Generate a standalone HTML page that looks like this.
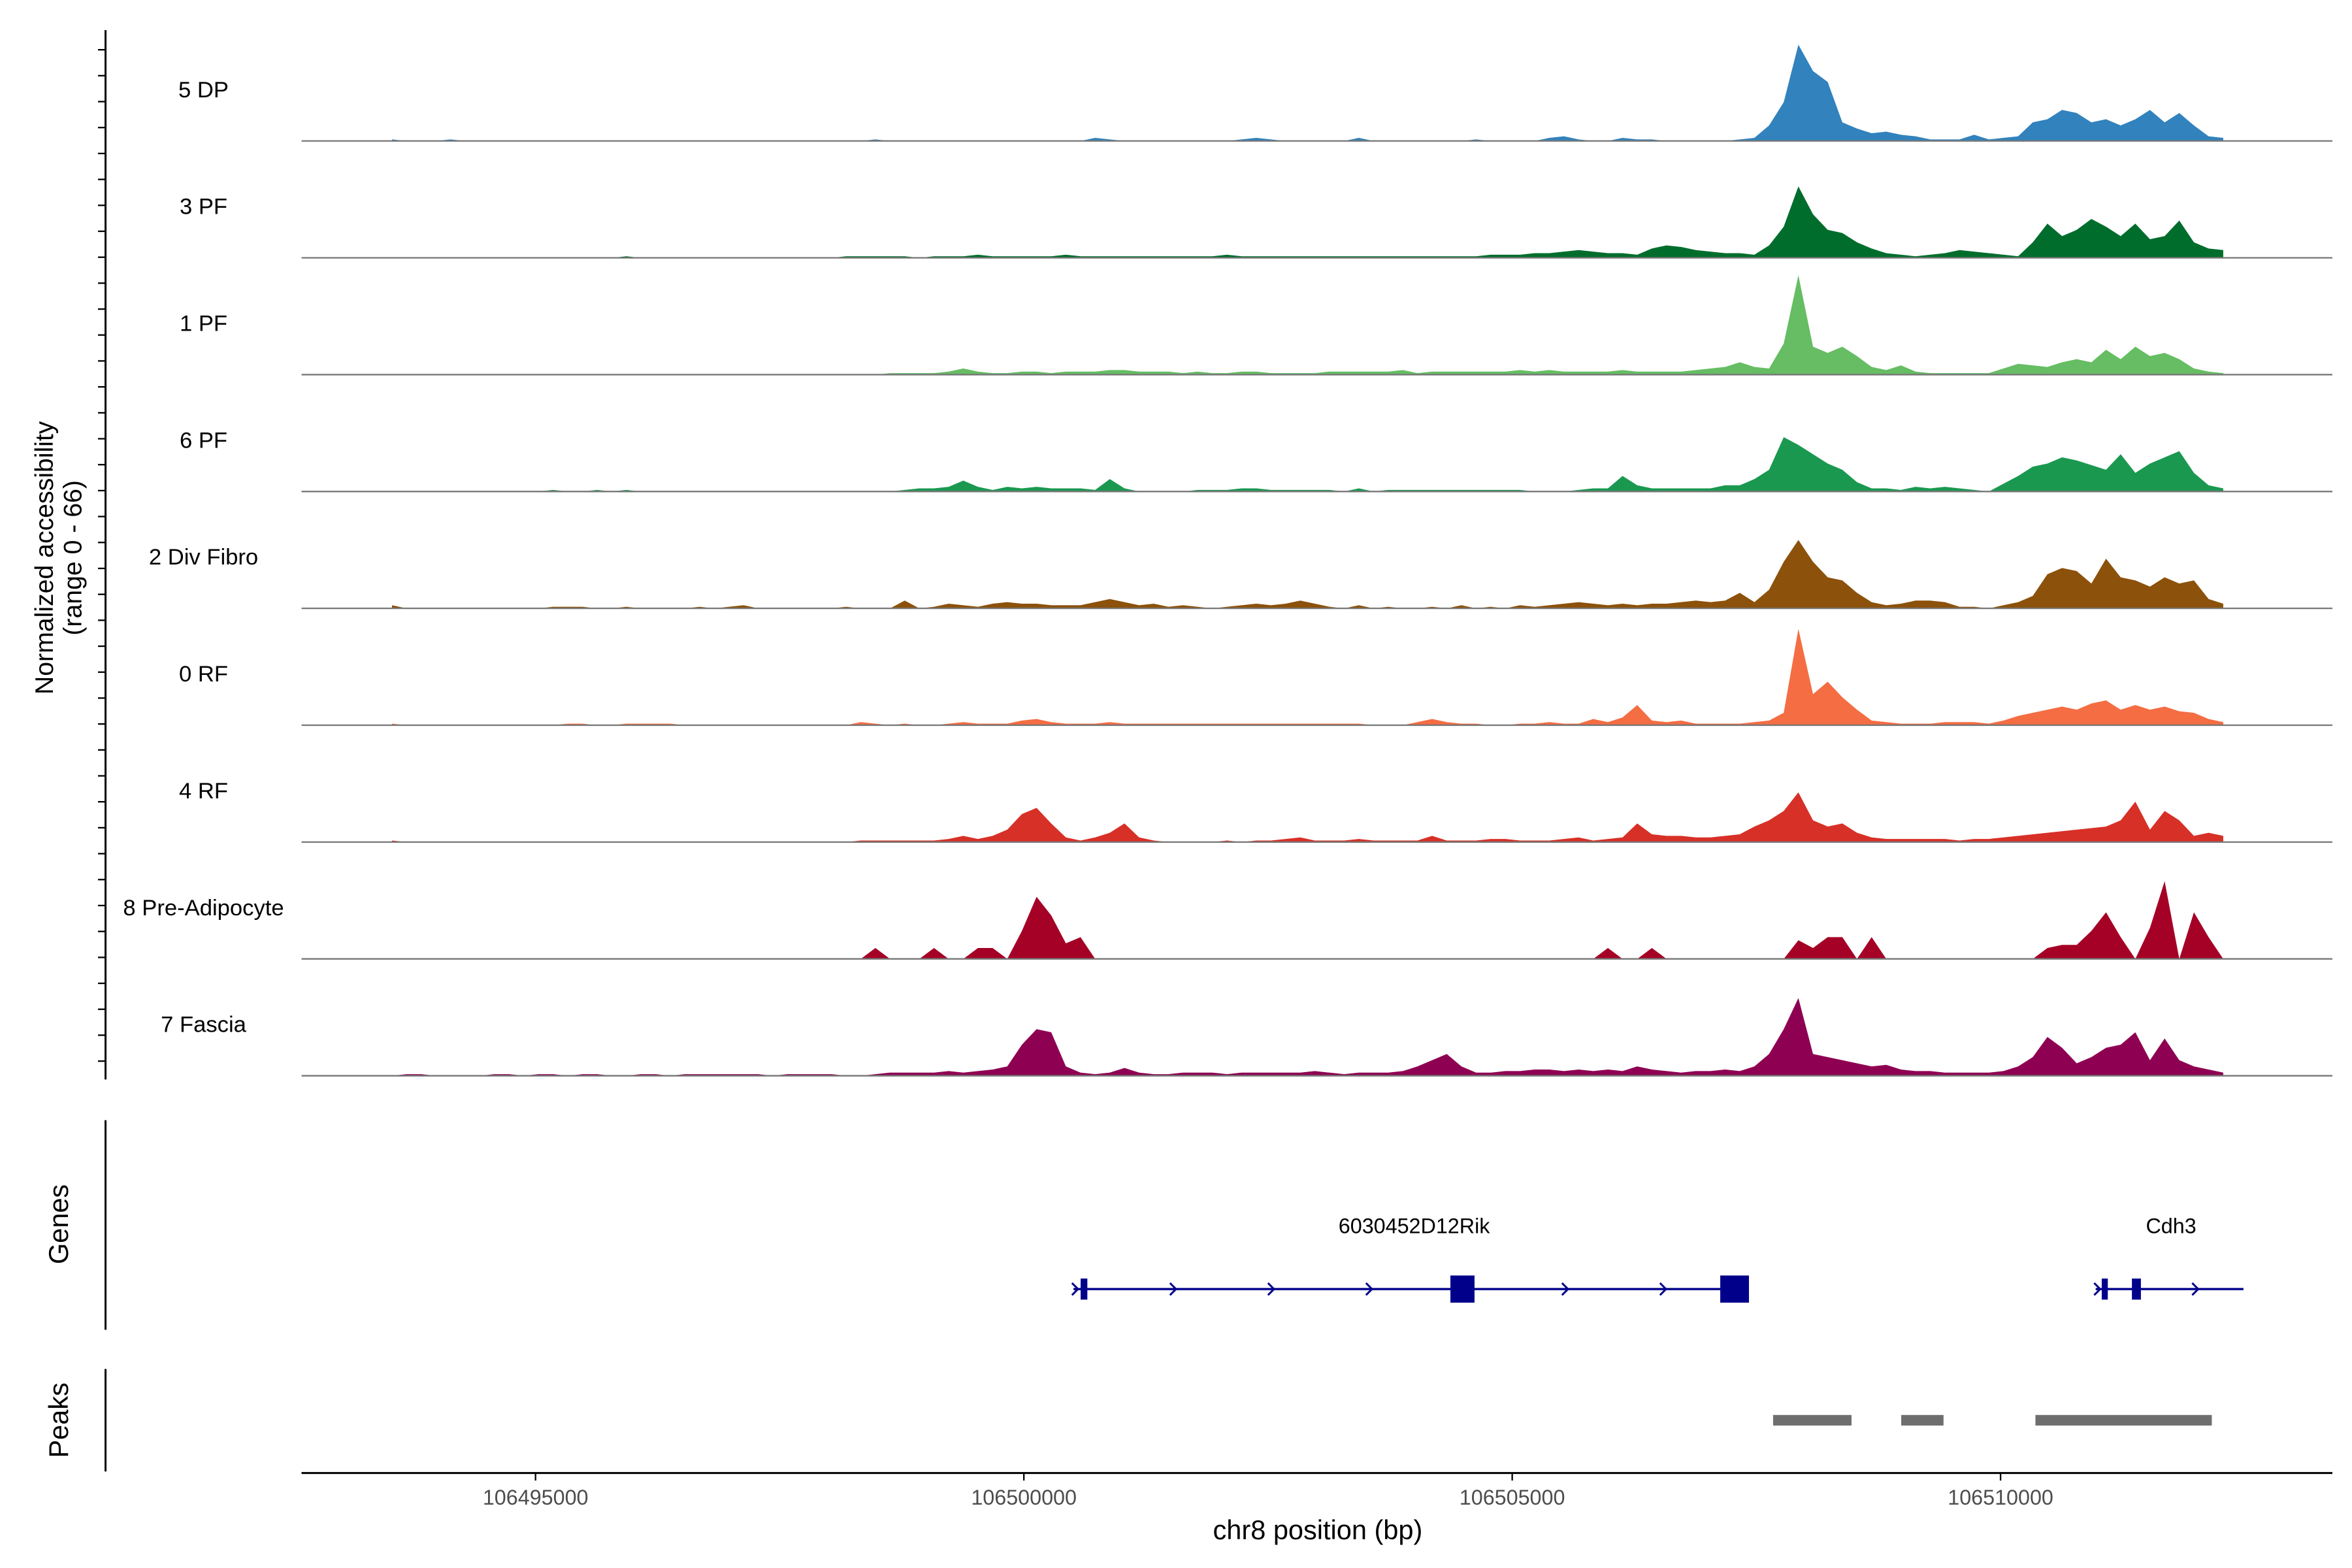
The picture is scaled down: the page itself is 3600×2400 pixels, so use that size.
<!DOCTYPE html>
<html><head><meta charset="utf-8"><style>
html,body{margin:0;padding:0;background:#fff}
svg{display:block;font-family:"Liberation Sans",sans-serif}
</style></head><body>
<svg id="chart" width="3600" height="2400" viewBox="0 0 1560 1040" xmlns="http://www.w3.org/2000/svg">
<g id="tracks"></g>
<g id="leftaxis"></g>
<text transform="translate(35,370) rotate(-90)" text-anchor="middle" font-size="17">Normalized accessibility</text>
<text transform="translate(54,370) rotate(-90)" text-anchor="middle" font-size="17">(range 0 - 66)</text>
<g id="genes"></g>
<g id="peaks"></g>
<g id="xaxis"></g>
<text x="874" y="1021" text-anchor="middle" font-size="18">chr8 position (bp)</text>
</svg>
<script>
const trackNames = ["5 DP","3 PF","1 PF","6 PF","2 Div Fibro","0 RF","4 RF","8 Pre-Adipocyte","7 Fascia"];
const trackColors = ["#3182bd","#006d2c","#66bd63","#1a9850","#8c510a","#f46d43","#d73027","#a50026","#8e0152"];
const binStart = 106493530;
const binSize = 150;
const yMax = 66;
const dp = [1,0,0,0,1,0,0,0,0,0, 0,0,0,0,0,0,0,0,0,0, 0,0,0,0,0,0,0,0,0,0, 0,0,0,1,0,0,0,0,0,0, 0,0,0,0,0,0,0,0,2,1, 0,0,0,0,0,0,0,0,1,2, 1,0,0,0,0,0,2,0,0,0, 0,0,0,0,1,0,0,0,0,2, 3,1,0,0,2,1,1,0,0,0, 0,0,1,2,10,25,62,45,38,12, 8,5,6,4,3,1,1,1,4,1, 2,3,12,14,20,18,12,14,10,14, 20,12,18,10,3,2];
const pf3 = [0,0,0,0,0,0,0,0,0,0, 0,0,0,0,0,0,1,0,0,0, 0,0,0,0,0,0,0,0,0,0, 0,1,1,1,1,1,0,1,1,1, 2,1,1,1,1,1,2,1,1,1, 1,1,1,1,1,1,1,2,1,1, 1,1,1,1,1,1,1,1,1,1, 1,1,1,1,1,2,2,2,3,3, 4,5,4,3,3,2,6,8,7,5, 4,3,3,2,8,20,46,28,18,16, 10,6,3,2,1,2,3,5,4,3, 2,1,10,22,14,18,25,20,14,22, 12,14,24,10,6,5];
const pf1 = [0,0,0,0,0,0,0,0,0,0, 0,0,0,0,0,0,0,0,0,0, 0,0,0,0,0,0,0,0,0,0, 0,0,0,0,1,1,1,1,2,4, 2,1,1,2,2,1,2,2,2,3, 3,2,2,2,1,2,1,1,2,2, 1,1,1,1,2,2,2,2,2,3, 1,2,2,2,2,2,2,3,2,3, 2,2,2,2,3,2,2,2,2,3, 4,5,8,5,4,20,64,18,14,18, 12,5,3,6,2,1,1,1,1,1, 4,7,6,5,8,10,8,16,10,18, 12,14,10,4,2,1];
const pf6 = [0,0,0,0,0,0,0,0,0,0, 0,1,0,0,1,0,1,0,0,0, 0,0,0,0,0,0,0,0,0,0, 0,0,0,0,0,1,2,2,3,7, 3,1,3,2,3,2,2,2,1,8, 2,0,0,0,0,1,1,1,2,2, 1,1,1,1,1,0,2,0,1,1, 1,1,1,1,1,1,1,1,0,0, 0,1,2,2,10,4,2,2,2,2, 2,4,4,8,14,35,30,24,18,14, 6,2,2,1,3,2,3,2,1,0, 5,10,16,18,22,20,17,14,24,12, 18,22,26,12,4,2];
const divFibro = [2,0,0,0,0,0,0,0,0,0, 0,1,1,1,0,0,1,0,0,0, 0,1,0,1,2,0,0,0,0,0, 0,1,0,0,0,5,0,1,3,2, 1,3,4,3,3,2,2,2,4,6, 4,2,3,1,2,1,0,1,2,3, 2,3,5,3,1,0,2,0,1,0, 0,1,0,2,0,1,0,2,1,2, 3,4,3,2,3,2,3,3,4,5, 4,5,10,4,12,30,44,30,20,18, 10,4,2,3,5,5,4,1,1,0, 2,4,8,22,26,24,16,32,20,18, 14,20,16,18,6,3];
const rf0 = [1,0,0,0,0,0,0,0,0,0, 0,0,1,1,0,0,1,1,1,1, 0,0,0,0,0,0,0,0,0,0, 0,0,2,1,0,1,0,0,1,2, 1,1,1,3,4,2,1,1,1,2, 1,1,1,1,1,1,1,1,1,1, 1,1,1,1,1,1,1,0,0,0, 2,4,2,1,1,0,0,1,1,2, 1,1,4,2,5,13,3,2,3,1, 1,1,1,2,3,8,62,20,28,18, 10,3,2,1,1,1,2,2,2,1, 3,6,8,10,12,10,14,16,10,13, 10,12,9,8,4,2];
const rf4 = [1,0,0,0,0,0,0,0,0,0, 0,0,0,0,0,0,0,0,0,0, 0,0,0,0,0,0,0,0,0,0, 0,0,1,1,1,1,1,1,2,4, 2,4,8,18,22,12,3,1,3,6, 12,3,1,0,0,0,0,1,0,1, 1,2,3,1,1,1,2,1,1,1, 1,4,1,1,1,2,2,1,1,1, 2,3,1,2,3,12,5,4,4,3, 3,4,5,10,14,20,32,14,10,12, 6,3,2,2,2,2,2,1,2,2, 3,4,5,6,7,8,9,10,14,26, 8,20,14,4,6,4];
const preAdipocyte = [0,0,0,0,0,0,0,0,0,0, 0,0,0,0,0,0,0,0,0,0, 0,0,0,0,0,0,0,0,0,0, 0,0,0,7,0,0,0,7,0,0, 7,7,0,18,40,28,10,14,0,0, 0,0,0,0,0,0,0,0,0,0, 0,0,0,0,0,0,0,0,0,0, 0,0,0,0,0,0,0,0,0,0, 0,0,0,7,0,0,7,0,0,0, 0,0,0,0,0,0,12,7,14,14, 0,14,0,0,0,0,0,0,0,0, 0,0,0,7,9,9,18,30,14,0, 20,50,0,30,14,0];
const fascia = [0,1,1,0,0,0,0,1,1,0, 1,1,0,1,1,0,0,1,1,0, 1,1,1,1,1,1,0,1,1,1, 1,0,0,1,2,2,2,2,3,2, 3,4,6,20,30,28,6,2,1,2, 5,2,1,1,2,2,2,1,2,2, 2,2,2,3,2,1,2,2,2,3, 6,10,14,6,2,2,3,3,4,4, 3,4,3,4,3,6,4,3,2,3, 3,4,3,6,14,30,50,14,12,10, 8,6,7,4,3,3,2,2,2,2, 3,6,12,25,18,8,12,18,20,28, 10,24,10,6,4,2];
const trackValues = [dp,pf3,pf1,pf6,divFibro,rf0,rf4,preAdipocyte,fascia];
const xTicks = [106495000,106500000,106505000,106510000];
const geneNames = ["6030452D12Rik","Cdh3"];
const geneStarts = [106500508,106510974];
const geneEnds = [106507424,106512487];
const exonStarts = [106500581,106504367,106507130,106511036,106511345];
const exonEnds = [106500650,106504614,106507424,106511098,106511437];
const peakStarts = [106507671,106508983,106510357];
const peakEnds = [106508474,106509416,106512163];

const NS="http://www.w3.org/2000/svg";
const X = bp => 355.2 + (bp - 106495000) * 0.06478;
const baseY = i => 93.5 + i * 77.5;
const H = v => v / yMax * 68;
function mk(tag, attrs, parent){const e=document.createElementNS(NS,tag);for(const k in attrs)e.setAttribute(k,attrs[k]);parent.appendChild(e);return e;}

const tracks=document.getElementById('tracks');
trackValues.forEach((vals,t)=>{
  const b=baseY(t);
  const g=mk('g',{},tracks);
  
  
  let d='M'+X(binStart).toFixed(2)+','+b;
  vals.forEach((v,i)=>{const x=X(binStart+i*binSize);d+=' L'+x.toFixed(2)+','+(b-H(v)).toFixed(2);});
  d+=' L'+X(binStart+(vals.length-1)*binSize).toFixed(2)+','+b+' Z';
  const p=mk('path',{d:d,fill:trackColors[t]},g);
  
  
  const l=mk('line',{x1:200,x2:1547,y1:b,y2:b,stroke:'#777','stroke-width':1},g);
  
  
  const tx=mk('text',{x:135,y:b-29,'text-anchor':'middle','font-size':15},g);
  tx.textContent=trackNames[t];
  
  
});

const la=document.getElementById('leftaxis');
mk('line',{x1:70,x2:70,y1:20,y2:716,stroke:'#000','stroke-width':1.3},la);
for(let y=33;y<716;y+=17.2){mk('line',{x1:65,x2:70,y1:y,y2:y,stroke:'#000','stroke-width':1},la);}

const gp=document.getElementById('genes');
mk('line',{x1:70,x2:70,y1:743,y2:882,stroke:'#000','stroke-width':1.3},gp);
const gt=mk('text',{transform:'translate(45,812) rotate(-90)','text-anchor':'middle','font-size':18},gp);
gt.textContent='Genes';


const gy=855;
geneNames.forEach((n,i)=>{
  const x1=X(geneStarts[i]),x2=X(geneEnds[i]);
  const gl=mk('line',{x1:x1,x2:x2,y1:gy,y2:gy,stroke:'#00008b','stroke-width':1.5},gp);
  
  
  for(let ax=x1+3;ax<=x2+1;ax+=65){mk('path',{d:`M${ax-4},${gy-4} L${ax},${gy} L${ax-4},${gy+4}`,fill:'none',stroke:'#00008b','stroke-width':1.3},gp);}
  const lt=mk('text',{x:(i===0?938:1440),y:818,'text-anchor':'middle','font-size':14},gp);
  lt.textContent=n;
  
  
});
exonStarts.forEach((s,i)=>{
  const x1=X(s),x2=X(exonEnds[i]);const big=(x2-x1)>10;
  const r=mk('rect',{x:x1,y:big?846:848,width:Math.max(x2-x1,4),height:big?18:14,fill:'#00008b'},gp);
  
  
});

const pp=document.getElementById('peaks');
mk('line',{x1:70,x2:70,y1:908,y2:976,stroke:'#000','stroke-width':1.3},pp);
const pt=mk('text',{transform:'translate(45,942) rotate(-90)','text-anchor':'middle','font-size':18},pp);
pt.textContent='Peaks';


peakStarts.forEach((s,i)=>{
  const r=mk('rect',{x:X(s),y:938.5,width:X(peakEnds[i])-X(s),height:7,fill:'#6e6e6e'},pp);
  
  
});

const xa=document.getElementById('xaxis');
mk('line',{x1:200,x2:1547,y1:977,y2:977,stroke:'#000','stroke-width':1.3},xa);
xTicks.forEach(v=>{
  const x=X(v);
  mk('line',{x1:x,x2:x,y1:977,y2:982,stroke:'#000','stroke-width':1},xa);
  const t=mk('text',{x:x,y:998,'text-anchor':'middle','font-size':14,fill:'#4d4d4d'},xa);
  t.textContent=v;
  
  
});
</script>
</body></html>
